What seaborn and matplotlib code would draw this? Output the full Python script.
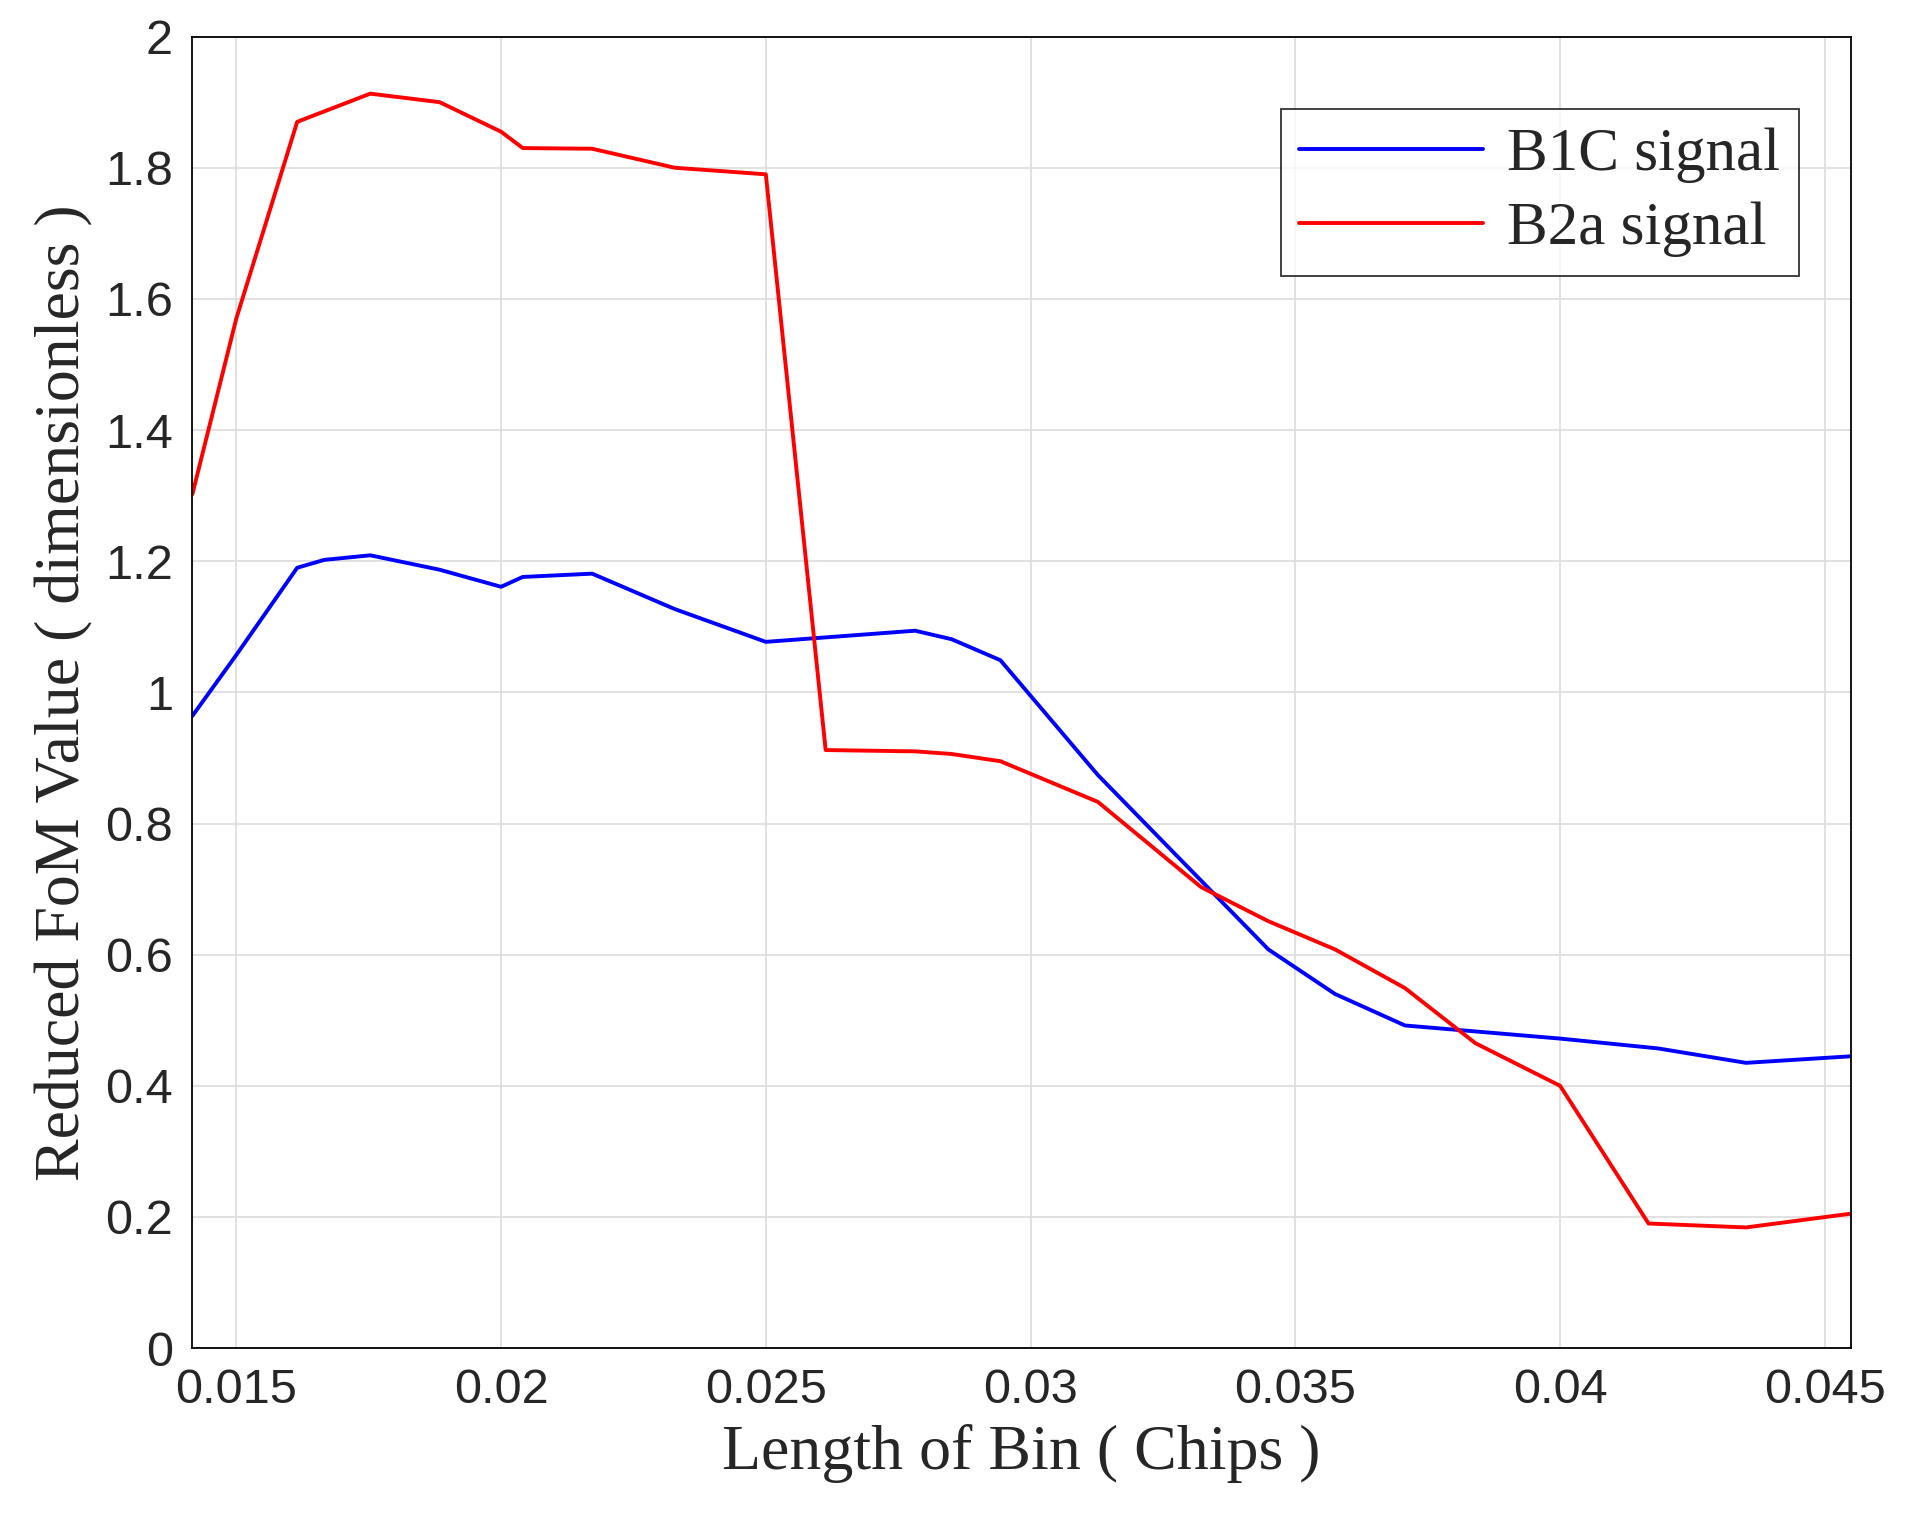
import matplotlib
matplotlib.use("Agg")
import matplotlib.pyplot as plt
import seaborn as sns
import pandas as pd

b1c_x = [0.01417,0.015,0.01615,0.01666,0.01753,0.01884,0.02,0.02041,0.02172,0.02328,0.025,0.02782,0.02851,0.02943,0.03127,0.03449,0.03575,0.03707,0.04,0.04185,0.04351,0.04549]
b1c_y = [0.964,1.057,1.19,1.202,1.209,1.187,1.161,1.176,1.181,1.127,1.077,1.094,1.081,1.049,0.874,0.608,0.54,0.492,0.472,0.457,0.435,0.445]
b2a_x = [0.01417,0.015,0.01615,0.01753,0.01884,0.02,0.02041,0.02172,0.02328,0.025,0.02613,0.02782,0.02851,0.02943,0.03127,0.03322,0.03449,0.03575,0.03707,0.0384,0.04,0.04167,0.04351,0.04549]
b2a_y = [1.302,1.57,1.87,1.913,1.9,1.855,1.83,1.829,1.80,1.79,0.912,0.91,0.906,0.895,0.833,0.703,0.651,0.608,0.549,0.465,0.4,0.19,0.184,0.205]

df = pd.concat([
    pd.DataFrame({"x": b1c_x, "y": b1c_y, "s": "B1C signal"}),
    pd.DataFrame({"x": b2a_x, "y": b2a_y, "s": "B2a signal"}),
])

sns.set_style("white")
fig = plt.figure(figsize=(19.12, 15.25), dpi=100)
ax = fig.add_axes([0.1006, 0.116, 0.8724 - 0.005, 0.86])
sns.lineplot(data=df, x="x", y="y", hue="s", palette={"B1C signal": "#0000ff", "B2a signal": "#ff0000"},
             linewidth=2.8, ax=ax, sort=False, estimator=None)
ax.set_xlim(0.01417, 0.04549)
ax.set_ylim(0, 2)
ax.set_xticks([0.015,0.02,0.025,0.03,0.035,0.04,0.045])
ax.set_xticklabels(["0.015","0.02","0.025","0.03","0.035","0.04","0.045"])
ax.set_yticks([0,0.2,0.4,0.6,0.8,1,1.2,1.4,1.6,1.8,2])
ax.set_yticklabels(["0","0.2","0.4","0.6","0.8","1","1.2","1.4","1.6","1.8","2"])
ax.tick_params(labelsize=35, direction="in", length=0, width=1.2, pad=14)
for lab in ax.get_xticklabels()+ax.get_yticklabels():
    lab.set_family("Liberation Sans")
ax.grid(True, color="#dcdcdc", linewidth=1.2)
for sp in ax.spines.values():
    sp.set_color("black"); sp.set_linewidth(1.3)
ax.set_xlabel("Length of Bin ( Chips )", fontsize=46, family="Liberation Serif", labelpad=8)
ax.set_ylabel("Reduced FoM Value ( dimensionless )", fontsize=46, family="Liberation Serif", labelpad=8)
leg = ax.legend(loc="upper right", frameon=True, fancybox=False, handlelength=3.0, handletextpad=0.4,
                borderpad=0.3, labelspacing=0.3,
                prop={"family": "Liberation Serif", "size": 44}, bbox_to_anchor=(0.987, 0.968))
leg.get_frame().set_edgecolor("black")
leg.get_frame().set_linewidth(1.3)
for l in leg.get_lines():
    l.set_linewidth(2.8)
fig.savefig("out.png", dpi=100)
